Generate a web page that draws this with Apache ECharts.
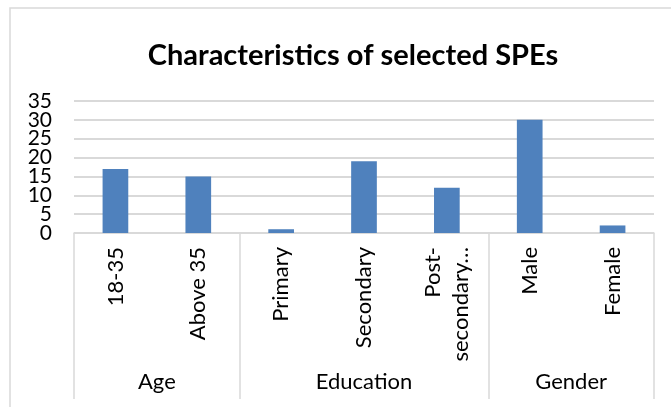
<!DOCTYPE html>
<html>
<head>
<meta charset="utf-8">
<title>Characteristics of selected SPEs</title>
<script src="https://cdn.jsdelivr.net/npm/echarts@6/dist/echarts.min.js"></script>
<style>
  html, body { margin: 0; padding: 0; background: #fff; }
  #chart { width: 671px; height: 407px; }
</style>
</head>
<body>
<div id="chart"></div>
<script>
// data
var categories = ['18-35', 'Above 35', 'Primary', 'Secondary', 'Post-\nsecondary…', 'Male', 'Female'];
var values = [17, 15, 1, 19, 12, 30, 2];
var groups = ['Age', 'Education', 'Gender'];
var groupSizes = [2, 3, 2];
var yTicks = [0, 5, 10, 15, 20, 25, 30, 35];

// group axis: points every half category, from the left edge to the right edge
var groupSlots = [];
var boundaries = {};
var pos = 0;
for (var i = 0; i <= categories.length * 2; i++) groupSlots.push('');
boundaries[0] = true;
groups.forEach(function (g, k) {
    groupSlots[pos * 2 + groupSizes[k]] = g;  // middle of the group
    pos += groupSizes[k];
    boundaries[pos * 2] = true;
});

var font = 'Lato, "Open Sans", sans-serif';
var gridColor = '#d9d9d9';

// the y labels sit so close that echarts drops some; split them over two stacked axes
function yAxisOf(labels, withGrid) {
    return {
        type: 'value',
        position: 'left',
        min: yTicks[0],
        max: yTicks[yTicks.length - 1],
        interval: 5,
        axisLine: { show: false },
        axisTick: { show: false },
        splitLine: { show: withGrid, lineStyle: { color: gridColor, width: 2 } },
        axisLabel: {
            margin: 22,
            customValues: labels,
            showMinLabel: true,
            showMaxLabel: true,
            fontFamily: font,
            fontSize: 21,
            color: '#000'
        }
    };
}

var myChart = echarts.init(document.getElementById('chart'));
var option = {
    backgroundColor: '#fff',
    animation: false,
    title: {
        text: 'Characteristics of selected SPEs',
        left: 348,
        textAlign: 'center',
        top: 36,
        textStyle: { fontFamily: font, fontSize: 29, fontWeight: 'bold', color: '#000' }
    },
    graphic: [{
        type: 'rect',
        shape: { x: 10, y: 8, width: 720, height: 460 },
        style: { fill: null, stroke: gridColor, lineWidth: 1.5 },
        silent: true
    }],
    grid: { left: 74, right: 17, top: 101, bottom: 174, containLabel: false },
    xAxis: [{
        type: 'category',
        data: categories,
        position: 'bottom',
        axisLine: { lineStyle: { color: gridColor, width: 1.5 } },
        axisTick: { show: false },
        axisLabel: {
            interval: 0,
            rotate: 90,
            margin: 14,
            fontFamily: font,
            fontSize: 22,
            lineHeight: 28,
            color: '#000'
        }
    }, {
        type: 'category',
        data: groupSlots,
        boundaryGap: false,
        position: 'bottom',
        axisLine: { show: false },
        axisTick: {
            show: true,
            length: 166,
            interval: function (idx) { return !!boundaries[idx]; },
            lineStyle: { color: gridColor, width: 1.5 }
        },
        axisLabel: {
            interval: 0,
            margin: 138,
            fontFamily: font,
            fontSize: 22,
            color: '#000'
        },
        splitLine: { show: false }
    }],
    yAxis: [
        yAxisOf(yTicks.filter(function (v, k) { return k % 2 === 0; }), true),
        yAxisOf(yTicks.filter(function (v, k) { return k % 2 === 1; }), false)
    ],
    series: [{
        type: 'bar',
        data: values,
        xAxisIndex: 0,
        yAxisIndex: 0,
        barWidth: '31%',
        itemStyle: { color: '#4F81BD' }
    }]
};
myChart.setOption(option);
</script>
</body>
</html>
